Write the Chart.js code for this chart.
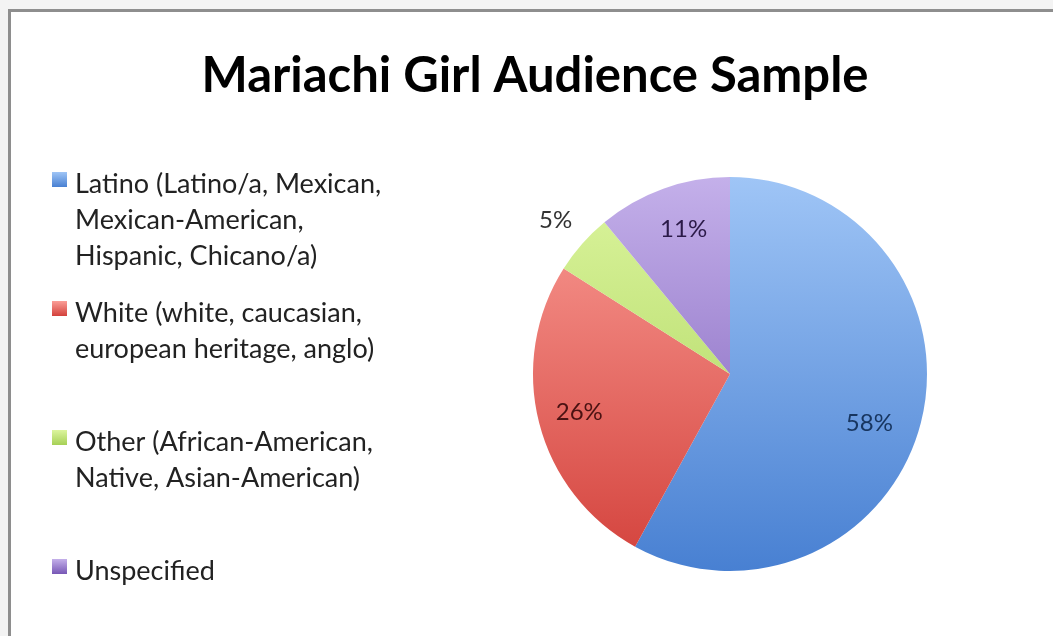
<!DOCTYPE html>
<html>
<head>
<meta charset="utf-8">
<script src="https://cdn.jsdelivr.net/npm/chart.js@4.4.1/dist/chart.umd.min.js"></script>
<style>
  body { margin: 0; background: #ffffff; }
  #chartBox { width: 1053px; height: 636px; position: relative; }
</style>
</head>
<body>
<div id="chartBox"><canvas id="pieCanvas"></canvas></div>
<script>
const chartTitle = "Mariachi Girl Audience Sample";

const categories = [
  ["Latino (Latino/a, Mexican,", "Mexican-American,", "Hispanic, Chicano/a)"],
  ["White (white, caucasian,", "european heritage, anglo)"],
  ["Other (African-American,", "Native, Asian-American)"],
  ["Unspecified"],
];

const shares = [58, 26, 5, 11];

// gradient colours, top of pie -> bottom of pie
const topColors = ["#9fc5f6", "#fb9e97", "#dcf59e", "#c4b0ea"];
const bottomColors = ["#4880d2", "#d3413b", "#a6d056", "#7757b5"];
const labelColors = ["#17355f", "#4a1212", "#333333", "#2b1a48"];
// where the % label sits: share of the radius, and a small turn (degrees) off the slice middle
const labelRadius = [0.75, 0.79, 1.18, 0.77];
const labelTurn = [5, 0, 0, 2];

const sliceGradient = (ctx) => {
  const chart = ctx.chart;
  const area = chart.chartArea;
  const i = ctx.dataIndex;
  if (!area || i === undefined) return topColors[i || 0];
  const g = chart.ctx.createLinearGradient(0, area.top, 0, area.bottom);
  g.addColorStop(0, topColors[i]);
  g.addColorStop(1, bottomColors[i]);
  return g;
};

const framePlugin = {
  id: "frame",
  beforeDraw(chart) {
    const c = chart.ctx;
    c.save();
    c.fillStyle = "#f3f3f3";
    c.fillRect(0, 0, chart.width, chart.height);
    c.fillStyle = "#ffffff";
    c.fillRect(11, 12, chart.width - 11, chart.height - 12);
    c.fillStyle = "#8e8e8e";
    c.fillRect(8, 9, chart.width - 8, 3);
    c.fillRect(8, 9, 3, chart.height - 9);
    c.restore();
  },
};

const titlePlugin = {
  id: "sideTitle",
  afterDraw(chart) {
    const c = chart.ctx;
    c.save();
    c.font = "bold 49px Lato, 'Open Sans', sans-serif";
    c.fillStyle = "#000000";
    c.textAlign = "center";
    c.textBaseline = "alphabetic";
    c.fillText(chartTitle, 535, 92);
    c.restore();
  },
};

const sideLegendPlugin = {
  id: "sideLegend",
  afterDraw(chart) {
    const c = chart.ctx;
    c.save();
    c.font = "27px Lato, 'Open Sans', sans-serif";
    c.textAlign = "left";
    c.textBaseline = "alphabetic";
    categories.forEach((lines, i) => {
      const cy = 179.5 + i * 129;
      const g = c.createLinearGradient(0, cy - 7.5, 0, cy + 7.5);
      g.addColorStop(0, topColors[i]);
      g.addColorStop(1, bottomColors[i]);
      c.fillStyle = g;
      c.fillRect(52, cy - 7.5, 15, 15);
      c.fillStyle = "#222222";
      lines.forEach((line, k) => {
        c.fillText(line, 75, cy + 13 + k * 36);
      });
    });
    c.restore();
  },
};

const pctLabelPlugin = {
  id: "pctLabels",
  afterDatasetsDraw(chart) {
    const c = chart.ctx;
    const meta = chart.getDatasetMeta(0);
    c.save();
    c.font = "24px Lato, 'Open Sans', sans-serif";
    c.textAlign = "center";
    c.textBaseline = "middle";
    meta.data.forEach((arc, i) => {
      const p = arc.getProps(["x", "y", "startAngle", "endAngle", "outerRadius"], true);
      const mid = (p.startAngle + p.endAngle) / 2 + labelTurn[i] * Math.PI / 180;
      const r = p.outerRadius * labelRadius[i];
      c.fillStyle = labelColors[i];
      c.fillText(shares[i] + "%", p.x + Math.cos(mid) * r, p.y + Math.sin(mid) * r);
    });
    c.restore();
  },
};

new Chart(document.getElementById("pieCanvas"), {
  type: "pie",
  data: {
    labels: categories,
    datasets: [
      {
        data: shares,
        backgroundColor: sliceGradient,
        borderWidth: 0,
        hoverOffset: 0,
        hoverBorderWidth: 0,
      },
    ],
  },
  options: {
    responsive: true,
    maintainAspectRatio: false,
    animation: false,
    layout: { padding: { top: 177, bottom: 65, left: 533, right: 126 } },
    plugins: {
      legend: { display: false },
      title: { display: false },
    },
  },
  plugins: [framePlugin, titlePlugin, sideLegendPlugin, pctLabelPlugin],
});
</script>
</body>
</html>
